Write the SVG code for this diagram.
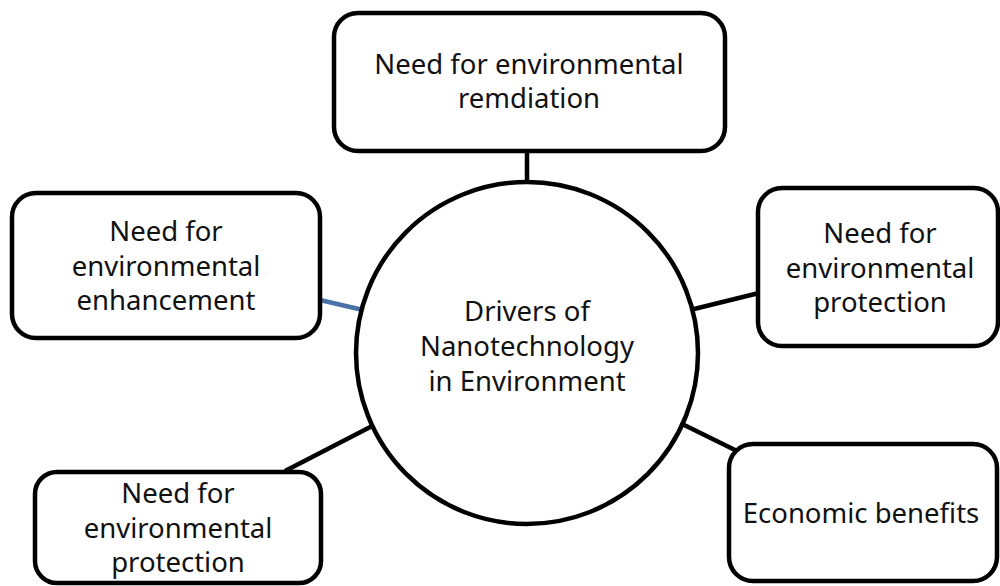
<svg xmlns="http://www.w3.org/2000/svg" width="1000" height="586" viewBox="0 0 1000 586">
  <style>
    .box { fill: #ffffff; stroke: #000000; stroke-width: 4.5; }
    .hub { fill: #ffffff; stroke: #000000; stroke-width: 4.5; }
    .link { stroke: #000000; stroke-width: 4.5; fill: none; }
    .link-blue { stroke: #4a72a8; stroke-width: 4.5; fill: none; }
    text { font-family: "Noto Sans", "Open Sans", sans-serif; font-size: 27.5px; fill: #111111; text-anchor: middle; }
  </style>
  <rect width="1000" height="586" fill="#ffffff"/>

  <!-- connectors between the hub and the surrounding boxes -->
  <g id="connectors">
    <line class="link" x1="527" y1="150" x2="527" y2="183"/>
    <line class="link-blue" x1="320" y1="300" x2="363" y2="310"/>
    <line class="link" x1="690" y1="310" x2="759" y2="293"/>
    <line class="link" x1="285" y1="471" x2="380" y2="422"/>
    <line class="link" x1="674" y1="420" x2="737" y2="451"/>
  </g>

  <g id="hub">
    <circle class="hub" cx="527" cy="353" r="171"/>
    <text x="527" y="321">Drivers of</text>
    <text x="527" y="356">Nanotechnology</text>
    <text x="527" y="391">in Environment</text>
  </g>

  <g id="remediation">
    <rect class="box" x="334" y="13" width="391" height="138" rx="24"/>
    <text x="529" y="74">Need for environmental</text>
    <text x="529" y="108">remdiation</text>
  </g>

  <g id="enhancement">
    <rect class="box" x="12" y="193" width="308" height="145" rx="24"/>
    <text x="166" y="241">Need for</text>
    <text x="166" y="276">environmental</text>
    <text x="166" y="310">enhancement</text>
  </g>

  <g id="protection-right">
    <rect class="box" x="758" y="188" width="240" height="158" rx="24"/>
    <text x="880" y="243">Need for</text>
    <text x="880" y="278">environmental</text>
    <text x="880" y="312">protection</text>
  </g>

  <g id="protection-left">
    <rect class="box" x="35" y="472" width="286" height="111" rx="22"/>
    <text x="178" y="503">Need for</text>
    <text x="178" y="538">environmental</text>
    <text x="178" y="572">protection</text>
  </g>

  <g id="economic">
    <rect class="box" x="729" y="444" width="268" height="137" rx="24"/>
    <text x="861" y="523">Economic benefits</text>
  </g>
</svg>
